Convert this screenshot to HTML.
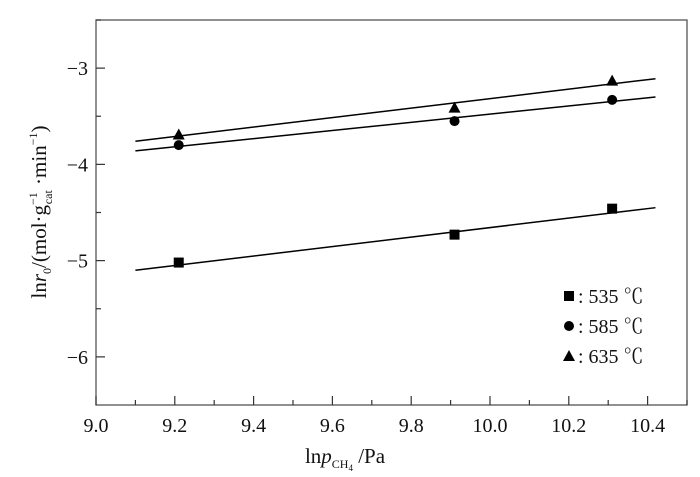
<!DOCTYPE html>
<html><head><meta charset="utf-8"><style>
body{margin:0;background:#fff;}
svg text{font-family:"Liberation Serif","Noto Serif CJK SC",serif;fill:#111;}
</style></head><body>
<svg id="c" width="700" height="472" xmlns="http://www.w3.org/2000/svg"></svg>
<script>
const xTicks=[9.0,9.2,9.4,9.6,9.8,10.0,10.2,10.4];
const yTicks=[-3,-4,-5,-6];
const seriesNames=["535 ℃","585 ℃","635 ℃"];
const xData=[9.21,9.91,10.31];
const y535=[-5.02,-4.73,-4.46];
const y585=[-3.80,-3.55,-3.33];
const y635=[-3.69,-3.41,-3.13];
const fitX=[9.1,10.42];
const fit535=[-5.10,-4.45];
const fit585=[-3.86,-3.30];
const fit635=[-3.76,-3.11];
const L=96,R=687,T=20,B=405,x0=9.0,x1=10.5,y0=-6.5,y1=-2.5;
const sx=v=>L+(v-x0)/(x1-x0)*(R-L);
const sy=v=>B-(v-y0)/(y1-y0)*(B-T);
const svg=document.getElementById('c');const NS="http://www.w3.org/2000/svg";
function mk(t,a,txt){const e=document.createElementNS(NS,t);for(const k in a)e.setAttribute(k,a[k]);if(txt!=null)e.textContent=txt;svg.appendChild(e);return e;}
let e=mk('rect',{x:L,y:T,width:R-L,height:B-T,fill:'none',stroke:'#555','stroke-width':1.3});


xTicks.forEach(v=>{let t=mk('line',{x1:sx(v),x2:sx(v),y1:B,y2:B-9,stroke:'#333','stroke-width':1.2});


let m=mk('line',{x1:sx(v+0.1),x2:sx(v+0.1),y1:B,y2:B-5,stroke:'#333','stroke-width':1.2});


let l=mk('text',{x:sx(v),y:B+27,'font-size':20,'text-anchor':'middle'},v.toFixed(1));

});
yTicks.forEach(v=>{let t=mk('line',{x1:L,x2:L+9,y1:sy(v),y2:sy(v),stroke:'#333','stroke-width':1.2});


let m=mk('line',{x1:L,x2:L+5,y1:sy(v+0.5),y2:sy(v+0.5),stroke:'#333','stroke-width':1.2});


let l=mk('text',{x:L-8,y:sy(v)+7,'font-size':20,'text-anchor':'end'},'\u2212'+Math.abs(v));

});
const ser=[[y535,fit535,'sq'],[y585,fit585,'ci'],[y635,fit635,'tr']];
function marker(s,x,y){let m;
if(s=='sq')m=mk('rect',{x:x-5,y:y-5,width:10,height:10,fill:'#000'});
else if(s=='ci')m=mk('circle',{cx:x,cy:y,r:5,fill:'#000'});
else m=mk('polygon',{points:`${x},${y-6} ${x-6},${y+5} ${x+6},${y+5}`,fill:'#000'});return m;}
ser.forEach((s,i)=>{let ln=mk('line',{x1:sx(fitX[0]),x2:sx(fitX[1]),y1:sy(s[1][0]),y2:sy(s[1][1]),stroke:'#000','stroke-width':1.5});


s[0].forEach((v,j)=>{let m=marker(s[2],sx(xData[j]),sy(v));

});
let ly=296+i*30;let lm=marker(s[2],569,ly);


let lt=mk('text',{x:578,y:ly+7,'font-size':20},': '+seriesNames[i]);

});
let xt=mk('text',{x:345,y:463,'font-size':21,'text-anchor':'middle'});
xt.innerHTML='ln<tspan font-style="italic">p</tspan><tspan font-size="12" dy="5">CH</tspan><tspan font-size="9" dy="3">4</tspan><tspan dy="-8"> /Pa</tspan>';


let yt=mk('text',{x:0,y:0,'font-size':21,'text-anchor':'middle',transform:'translate(46,212) rotate(-90)'});
yt.innerHTML='ln<tspan font-style="italic">r</tspan><tspan font-size="12" dy="5">0</tspan><tspan dy="-5">/(mol·g</tspan><tspan font-size="12" dy="-9">−1</tspan><tspan font-size="12" dx="-12" dy="15">cat</tspan><tspan dy="-6"> ·min</tspan><tspan font-size="12" dy="-9">−1</tspan><tspan dy="9">)</tspan>';


</script>
</body></html>
